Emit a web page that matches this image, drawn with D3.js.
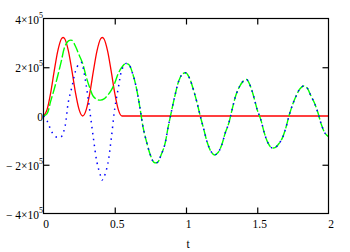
<!DOCTYPE html>
<html>
<head>
<meta charset="utf-8">
<script src="https://cdn.jsdelivr.net/npm/d3@7"></script>
<style>
html, body { margin: 0; padding: 0; background: #fff; }
svg { display: block; }
text { font-family: "Liberation Serif", "Times New Roman", serif; font-size: 11.5px; fill: #000; }
</style>
</head>
<body>
<div id="chart"></div>
<script>
// time grid (s) shared by the green trace
const tGrid = [0, 0.025, 0.05, 0.075, 0.1, 0.125, 0.15, 0.175, 0.2, 0.225,
  0.25, 0.275, 0.3, 0.325, 0.35, 0.375, 0.4, 0.425, 0.45, 0.475,
  0.5, 0.525, 0.55, 0.575, 0.6, 0.625, 0.65, 0.675, 0.7, 0.725,
  0.75, 0.775, 0.8, 0.825, 0.85, 0.875, 0.9, 0.925, 0.95, 0.975,
  1.0, 1.025, 1.05, 1.075, 1.1, 1.125, 1.15, 1.175, 1.2, 1.225,
  1.25, 1.275, 1.3, 1.325, 1.35, 1.375, 1.4, 1.425, 1.45, 1.475,
  1.5, 1.525, 1.55, 1.575, 1.6, 1.625, 1.65, 1.675, 1.7, 1.725,
  1.75, 1.775, 1.8, 1.825, 1.85, 1.875, 1.9, 1.925, 1.95, 1.975, 2.0];

// green dashed trace, values in units of 1e5
const green = [0, 0.1, 0.6, 1.1, 1.65, 2.25, 2.85, 3.08, 3.1, 2.85,
  2.5, 2.15, 1.6, 1.15, 0.8, 0.68, 0.65, 0.7, 0.85, 1.05,
  1.35, 1.75, 2.0, 2.15, 2.1, 1.75, 1.2, 0.4, -0.5, -1.1,
  -1.6, -1.9, -1.9, -1.6, -1.2, -0.45, 0.25, 0.9, 1.45, 1.72,
  1.77, 1.55, 1.12, 0.6, 0.0, -0.55, -1.1, -1.45, -1.6, -1.5,
  -1.2, -0.7, -0.3, 0.3, 0.85, 1.2, 1.42, 1.5, 1.25, 0.8,
  0.25, -0.15, -0.7, -1.1, -1.3, -1.3, -1.15, -0.92, -0.5, 0.05,
  0.5, 0.85, 1.12, 1.23, 1.15, 0.85, 0.55, 0.15, -0.35, -0.7, -0.85];

// blue dotted trace before it joins the green one (t = 0 .. 0.55)
const blueT = [0, 0.025, 0.05, 0.075, 0.1, 0.125, 0.15, 0.175, 0.2, 0.225,
  0.25, 0.265, 0.275, 0.3, 0.325, 0.35, 0.375, 0.4, 0.41, 0.425,
  0.45, 0.475, 0.5, 0.525, 0.55];
const blueEarly = [0, -0.2, -0.55, -0.8, -0.88, -0.85, -0.45, 0.6, 1.2, 1.85,
  2.15, 2.2, 2.05, 1.25, 0.2, -0.9, -1.9, -2.45, -2.63, -2.5,
  -2.0, -0.95, 0.3, 1.15, 1.9];

// red solid trace (two pulses, then zero)
const redT = [0, 0.025, 0.05, 0.075, 0.1, 0.125, 0.1375, 0.15, 0.175, 0.2, 0.225,
  0.25, 0.275, 0.3, 0.325, 0.35, 0.375, 0.4, 0.4125, 0.425, 0.45, 0.475,
  0.5, 0.525, 0.55, 2.0];
const red = [0, 0.26, 0.94, 1.84, 2.66, 3.16, 3.22, 3.16, 2.66, 1.84, 0.94,
  0.26, 0, 0.26, 0.94, 1.84, 2.66, 3.16, 3.22, 3.16, 2.66, 1.84,
  0.94, 0.26, 0, 0];

const xTicks = [0, 0.5, 1, 1.5, 2];
const xTickLabels = ['0', '0.5', '1', '1.5', '2'];
const yTicks = [4e5, 2e5, 0, -2e5, -4e5];
const yTickLabels = ['4×10', '2×10', '0', '− 2×10', '− 4×10'];

const width = 350;
const height = 252;

const svg = d3.select('#chart')
  .append('svg')
  .attr('width', width)
  .attr('height', height);

const x = d3.scaleLinear().domain([0, 2]).range([43.5, 328.5]);
const y = d3.scaleLinear().domain([-4e5, 4e5]).range([213.5, 18.5]);

const line = d3.line()
  .x(d => x(d[0]))
  .y(d => y(d[1] * 1e5))
  .curve(d3.curveCatmullRom);

const redPts = redT.map((t, i) => [t, red[i]]);
const greenPts = tGrid.map((t, i) => [t, green[i]]);
// after the pulse ends the blue trace lies on the green one
const bluePts = blueT.map((t, i) => [t, blueEarly[i]])
  .concat(tGrid.slice(23).map((t, i) => [t, green[i + 23]]));

const plot = svg.append('g');

plot.append('path')
  .attr('d', line.curve(d3.curveMonotoneX)(redPts))
  .attr('fill', 'none')
  .attr('stroke', '#ff0000')
  .attr('stroke-width', 1.3);

line.curve(d3.curveCatmullRom);

plot.append('path')
  .attr('d', line(greenPts))
  .attr('fill', 'none')
  .attr('stroke', '#00ff00')
  .attr('stroke-width', 1.4)
  .attr('stroke-dasharray', '10,2.5');

plot.append('path')
  .attr('d', line(bluePts))
  .attr('fill', 'none')
  .attr('stroke', '#0000ff')
  .attr('stroke-width', 1.5)
  .attr('stroke-dasharray', '1.5,4.5');

// frame
svg.append('rect')
  .attr('x', x(0))
  .attr('y', y(4e5))
  .attr('width', x(2) - x(0))
  .attr('height', y(-4e5) - y(4e5))
  .attr('fill', 'none')
  .attr('stroke', '#000')
  .attr('stroke-width', 1.2);

// inner ticks on all four sides
const innerX = [0.5, 1, 1.5];
const innerY = [2e5, -2e5];
const tickAxes = [
  [d3.axisTop(x).tickValues(innerX), `translate(0,${y(4e5)})`],
  [d3.axisBottom(x).tickValues(innerX), `translate(0,${y(-4e5)})`],
  [d3.axisLeft(y).tickValues(innerY), `translate(${x(0)},0)`],
  [d3.axisRight(y).tickValues(innerY), `translate(${x(2)},0)`]
];
tickAxes.forEach(([ax, tr]) => {
  const g = svg.append('g')
    .attr('transform', tr)
    .call(ax.tickSizeInner(-6).tickSizeOuter(0).tickFormat(''));
  g.select('.domain').remove();
  g.selectAll('line').attr('stroke', '#000').attr('stroke-width', 1.2);
});

// y tick labels with superscript exponent
yTicks.forEach((v, i) => {
  const txt = svg.append('text')
    .attr('x', 43)
    .attr('y', y(v) + 5)
    .attr('text-anchor', 'end');
  txt.append('tspan').text(yTickLabels[i]);
  if (v !== 0) {
    txt.append('tspan')
      .attr('dy', -6)
      .style('font-size', '8px')
      .text('5');
  }
});

// x tick labels
svg.selectAll('.xlab')
  .data(xTicks)
  .enter()
  .append('text')
  .attr('class', 'xlab')
  .attr('x', d => x(d) + 2.5)
  .attr('y', 227.5)
  .attr('text-anchor', 'middle')
  .text((d, i) => xTickLabels[i]);

svg.append('text')
  .attr('x', 188)
  .attr('y', 247.5)
  .attr('text-anchor', 'middle')
  .text('t');
</script>
</body>
</html>
